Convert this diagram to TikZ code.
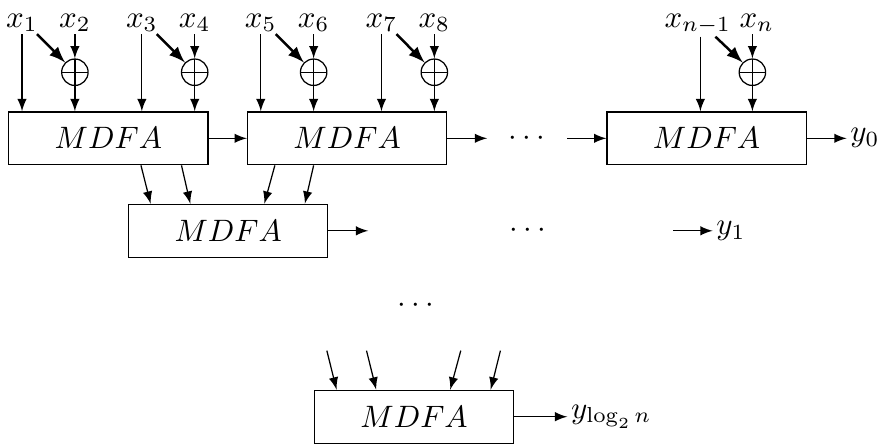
\documentclass[tikz,border=0pt]{standalone}
\begin{document}
\begin{tikzpicture}[>=latex,
  blk/.style={draw, minimum width=2.26cm, minimum height=0.6cm},
  xin/.style={anchor=base, inner sep=0.5pt},
  xorc/.style={draw, circle, minimum size=0.3cm, inner sep=0pt,
    path picture={\draw (path picture bounding box.west)--(path picture bounding box.east)
      (path picture bounding box.north)--(path picture bounding box.south);}}]
\useasboundingbox (0,0) rectangle (10,-5.03);
% first row
\node[blk] (m1) at (1.23,-1.57) {$MDFA$};
\node[blk] (m2) at (3.94,-1.57) {$MDFA$};
\node[blk] (mk) at (8.02,-1.57) {$MDFA$};
\node[xin] (x1) at (0.25,-0.31) {$x_1$};
\node[xin] (x2) at (0.85,-0.31) {$x_2$};
\node[xin] (x3) at (1.61,-0.31) {$x_3$};
\node[xin] (x4) at (2.21,-0.31) {$x_4$};
\node[xin] (x5) at (2.96,-0.31) {$x_5$};
\node[xin] (x6) at (3.56,-0.31) {$x_6$};
\node[xin] (x7) at (4.33,-0.31) {$x_7$};
\node[xin] (x8) at (4.93,-0.31) {$x_8$};
\node[xin] (xa) at (7.92,-0.31) {$x_{n-1}$};
\node[xin] (xb) at (8.59,-0.31) {$x_n$};
\node[xorc] (p1) at (0.85,-0.82) {};
\node[xorc] (p2) at (2.21,-0.82) {};
\node[xorc] (p3) at (3.56,-0.82) {};
\node[xorc] (p4) at (4.93,-0.82) {};
\node[xorc] (pk) at (8.54,-0.82) {};
\coordinate (xa0) at ([xshift=0.03cm]xa.south);
\draw[->] (x1.south) -- (x1 |- m1.north);
\draw[->] (x3.south) -- (x3 |- m1.north);
\draw[->] (x5.south) -- (x5 |- m2.north);
\draw[->] (x7.south) -- (x7 |- m2.north);
\draw[->] (xa0) -- (xa0 |- mk.north);
\draw[->] (x2.south) -- (p1.north); \draw[->] (p1.south) -- (p1 |- m1.north);
\draw[->] (x4.south) -- (p2.north); \draw[->] (p2.south) -- (p2 |- m1.north);
\draw[->] (x6.south) -- (p3.north); \draw[->] (p3.south) -- (p3 |- m2.north);
\draw[->] (x8.south) -- (p4.north); \draw[->] (p4.south) -- (p4 |- m2.north);
\draw[->] (pk |- xb.south) -- (pk.north); \draw[->] (pk.south) -- (pk |- mk.north);
\draw[->, thick] ([xshift=0.17cm]x1.south) -- (p1.north west);
\draw[->, thick] ([xshift=0.17cm]x3.south) -- (p2.north west);
\draw[->, thick] ([xshift=0.17cm]x5.south) -- (p3.north west);
\draw[->, thick] ([xshift=0.17cm]x7.south) -- (p4.north west);
\draw[->, thick] ([xshift=0.17cm]xa0) -- (pk.north west);
\coordinate (r1a) at (5.53,-1.57);
\node (d1) at (5.98,-1.57) {$\cdots$};
\coordinate (r1b) at (6.44,-1.57);
\node[anchor=west, inner sep=1pt] (y0) at (9.61,-1.57) {$y_0$};
\draw[->] (m1) -- (m2);
\draw[->] (m2) -- (r1a);
\draw[->] (r1b) -- (mk);
\draw[->] (mk) -- (y0);
% second row
\node[blk] (m3) at (2.59,-2.62) {$MDFA$};
\draw[->] ([xshift=0.37cm]m1.south) -- ([xshift=-0.88cm]m3.north);
\draw[->] ([xshift=0.83cm]m1.south) -- ([xshift=-0.43cm]m3.north);
\draw[->] ([xshift=-0.82cm]m2.south) -- ([xshift=0.41cm]m3.north);
\draw[->] ([xshift=-0.38cm]m2.south) -- ([xshift=0.87cm]m3.north);
\coordinate (r2a) at (4.18,-2.62);
\node (d2) at (5.99,-2.62) {$\cdots$};
\coordinate (r2b) at (7.64,-2.62);
\node[anchor=west, inner sep=1pt] (y1) at (8.09,-2.62) {$y_1$};
\draw[->] (m3) -- (r2a);
\draw[->] (r2b) -- (y1);
% last row
\node (d3) at (4.72,-3.47) {$\cdots$};
\node[blk] (m4) at (4.70,-4.73) {$MDFA$};
\coordinate (q1) at (3.71,-3.98);
\coordinate (q2) at (4.16,-3.98);
\coordinate (q3) at (5.23,-3.98);
\coordinate (q4) at (5.68,-3.98);
\draw[->] (q1) -- ([xshift=-0.88cm]m4.north);
\draw[->] (q2) -- ([xshift=-0.43cm]m4.north);
\draw[->] (q3) -- ([xshift=0.41cm]m4.north);
\draw[->] (q4) -- ([xshift=0.87cm]m4.north);
\node[anchor=west, inner sep=1pt] (yl) at (6.44,-4.73) {$y_{\log_2 n}$};
\draw[->] (m4) -- (yl);
\end{tikzpicture}
\end{document}
